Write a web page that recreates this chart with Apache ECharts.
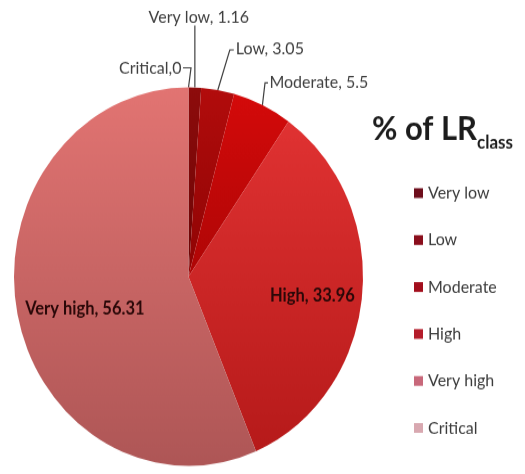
<!DOCTYPE html>
<html>
<head>
<meta charset="utf-8">
<script src="https://cdn.jsdelivr.net/npm/echarts@6/dist/echarts.min.js"></script>
<style>
  html, body { margin: 0; padding: 0; background: #ffffff; }
  #wrap { width: 525px; height: 474px; position: relative; overflow: visible; }
  /* the chart is drawn slightly taller than wide, like the original figure */
  #chart { position: absolute; left: 0; top: 0; width: 525px; height: 437px;
           transform: scaleY(1.0847); transform-origin: 0 0; }
</style>
</head>
<body>
<div id="wrap"><div id="chart"></div></div>
<script>
// share of each LR class (%)
const categories = ['Very low', 'Low', 'Moderate', 'High', 'Very high', 'Critical'];
const shares = [1.16, 3.05, 5.5, 33.96, 56.31, 0];
const legendTitle = '% of LR';
const legendTitleSub = 'class';

// pie geometry and colours
const CX = 188.5, CY = 255, R = 174.5;
const sliceTop    = ['#8e0c0c', '#b20c0c', '#d40a0a', '#e03232', '#e27472', '#f2b4b4'];
const sliceBottom = ['#6a0404', '#8e0404', '#ae0606', '#b61a1a', '#ae5656', '#d89898'];
const swatch      = ['#6e0e1c', '#8a0e1c', '#a20e1c', '#b41c2a', '#c8687a', '#d8a8b0'];

const total = shares.reduce((a, b) => a + b, 0);
function midAngle(i) {
  let before = 0;
  for (let k = 0; k < i; k++) before += shares[k];
  return (before + shares[i] / 2) / total * 2 * Math.PI;
}
function slicePoint(i, frac) {
  const a = midAngle(i);
  return [CX + R * frac * Math.sin(a), CY - R * frac * Math.cos(a)];
}

// label placement relative to each slice's anchor point
const labelPlace = {
  'Critical':  { frac: 1, dx: -7, dy: -18, align: 'right',  line: [[2.5, -18], [-5.5, -18]] },
  'Very low':  { frac: 1, dx: 4,  dy: -65, align: 'center', line: [[0, -50], [0, -57]] },
  'Low':       { frac: 1, dx: 18, dy: -38, align: 'left',   line: [[12, -37], [16, -37]] },
  'Moderate':  { frac: 1, dx: 7,  dy: -21, align: 'left',   line: [[2.6, -20.5], [5.6, -20.5]] },
  'High':      { frac: 0.72, dx: -1, dy: 4, align: 'center' },
  'Very high': { frac: 0.6,  dx: -1, dy: 9, align: 'center' }
};
const insideNames = ['High', 'Very high'];

const chart = echarts.init(document.getElementById('chart'), null, { renderer: 'canvas' });

const pieData = categories.map((name, i) => {
  const item = {
    name: name,
    value: shares[i],
    itemStyle: {
      color: new echarts.graphic.LinearGradient(0, 0, 0, 1, [
        { offset: 0, color: sliceTop[i] },
        { offset: 1, color: sliceBottom[i] }
      ])
    }
  };
  if (insideNames.includes(name)) {
    item.label = { position: 'inside', fontWeight: 'bold', fontSize: 16.5, color: '#2a0808' };
    item.labelLine = { show: false };
  }
  if (name === 'Critical') {
    item.label = { formatter: '{b},{c}' };
  }
  return item;
});

chart.setOption({
  animation: false,
  backgroundColor: '#ffffff',
  graphic: [
    {
      type: 'text', x: 372, y: 119,
      style: { text: legendTitle, font: 'bold 31px Lato', fill: '#1c1c1c', verticalAlign: 'middle' }
    },
    {
      type: 'text', x: 477, y: 132,
      style: { text: legendTitleSub, font: 'bold 17px Lato', fill: '#1c1c1c', verticalAlign: 'middle' }
    }
  ],
  legend: {
    orient: 'vertical',
    left: 414,
    top: 170,
    padding: 0,
    itemWidth: 9,
    itemHeight: 9,
    itemGap: 27.3,
    icon: 'rect',
    selectedMode: false,
    textStyle: { fontFamily: 'Lato', fontSize: 16, color: '#3c3c3c', lineHeight: 16 },
    data: categories.map((n, i) => ({ name: n, itemStyle: { color: swatch[i] } }))
  },
  series: [{
    type: 'pie',
    center: [CX, CY],
    radius: R,
    startAngle: 90,
    clockwise: true,
    avoidLabelOverlap: false,
    minShowLabelAngle: 0,
    emphasis: { disabled: true },
    itemStyle: { borderWidth: 0 },
    label: {
      show: true,
      position: 'outside',
      formatter: '{b}, {c}',
      fontFamily: 'Lato',
      fontSize: 16,
      color: '#404040'
    },
    labelLine: { show: true, lineStyle: { color: '#404040', width: 1.2 } },
    labelLayout: function (params) {
      const name = categories[params.dataIndex];
      const p = labelPlace[name];
      const [ax, ay] = slicePoint(params.dataIndex, p.frac);
      const out = { x: ax + p.dx, y: ay + p.dy, align: p.align, verticalAlign: 'middle' };
      if (p.line) {
        out.labelLinePoints = [
          [ax, ay],
          [ax + p.line[0][0], ay + p.line[0][1]],
          [ax + p.line[1][0], ay + p.line[1][1]]
        ];
      }
      return out;
    },
    data: pieData
  }]
});
</script>
</body>
</html>
